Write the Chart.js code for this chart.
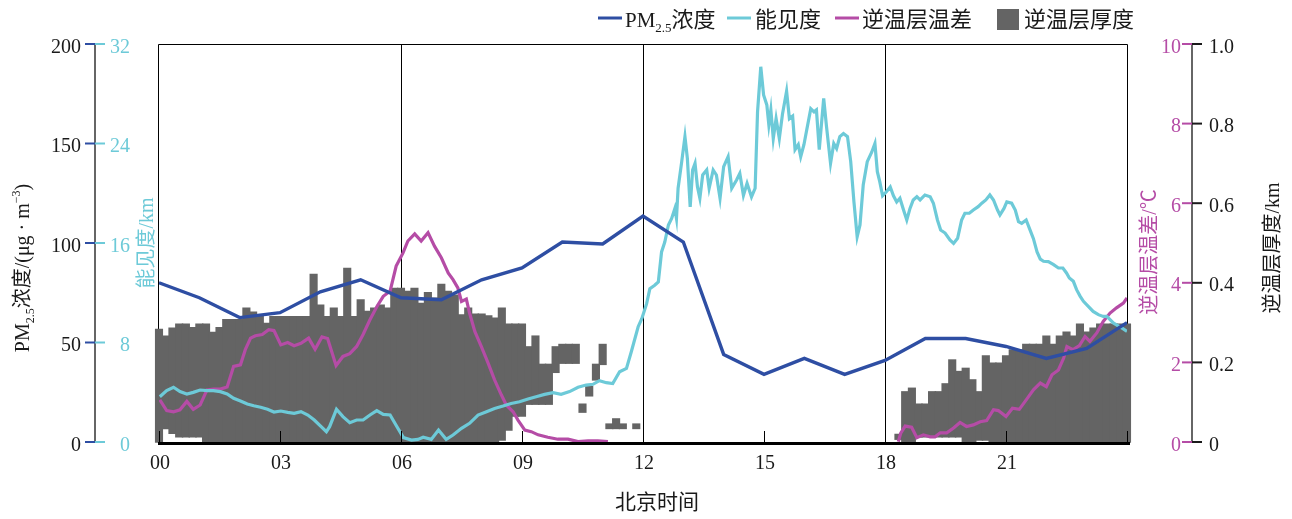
<!DOCTYPE html>
<html>
<head>
<meta charset="utf-8">
<title>PM2.5、能见度与逆温层日变化</title>
<script src="https://cdn.jsdelivr.net/npm/chart.js@4/dist/chart.umd.min.js"></script>
<style>
  html, body { margin: 0; padding: 0; background: #ffffff; }
  canvas { display: block; }
</style>
</head>
<body>
<canvas id="c" width="1292" height="519"></canvas>
<script>
// ---------- data ----------
// PM2.5 hourly concentration (μg·m⁻³)
const pmHours  = [0, 1, 2, 3, 4, 5, 6, 7, 8, 9, 10, 11, 12, 13, 14, 15, 16, 17, 18, 19, 20, 21, 22, 23, 24];
const pmValues = [80, 72.5, 62.5, 65, 75.5, 81.5, 72.5, 71.5, 81.5, 87.5, 100.5, 99.5, 113.5, 100.5, 44, 34, 42, 34, 41, 52, 52, 48, 42, 47, 60];

// visibility (km)
const visHours = [
  0.02, 0.19, 0.36, 0.52, 0.69, 0.85, 1.02, 1.19, 1.35, 1.52, 1.69, 1.85, 2.02, 2.19, 2.35, 2.52, 2.69, 2.85,
  3.02, 3.19, 3.35, 3.52, 3.69, 3.85, 4.02, 4.15, 4.23, 4.4, 4.56, 4.73, 4.9, 5.06, 5.23, 5.4, 5.56, 5.73, 5.9,
  6.06, 6.26, 6.42, 6.55, 6.75, 6.93, 7.12, 7.29, 7.5, 7.7, 7.91, 8.12, 8.32, 8.53, 8.73, 8.94,
  9.15, 9.35, 9.56, 9.77, 9.97, 10.18, 10.39, 10.59, 10.76, 10.92, 11.09, 11.25, 11.42, 11.59, 11.71, 11.88,
  11.97, 12.09, 12.17, 12.29, 12.38, 12.46, 12.54, 12.63, 12.71, 12.79, 12.83, 12.87, 12.96, 13.04, 13.1, 13.17,
  13.23, 13.29, 13.35, 13.41, 13.48, 13.58, 13.64, 13.74, 13.82, 13.91, 14.0, 14.11, 14.2, 14.32, 14.4, 14.49,
  14.58, 14.69, 14.78, 14.84, 14.92, 14.99, 15.07, 15.12, 15.17, 15.23, 15.3, 15.38, 15.46, 15.56, 15.63, 15.71,
  15.77, 15.85, 15.91, 15.99, 16.06, 16.16, 16.24, 16.3, 16.37, 16.43, 16.48, 16.55, 16.65, 16.73, 16.8, 16.88,
  16.97, 17.07, 17.15, 17.23, 17.31, 17.38, 17.46, 17.56, 17.67, 17.75, 17.81, 17.87, 17.94, 18.03, 18.13, 18.21,
  18.29, 18.37, 18.46, 18.54, 18.62, 18.7, 18.79, 18.87, 18.99, 19.12, 19.2, 19.3, 19.38, 19.49, 19.61, 19.7,
  19.8, 19.9, 19.98, 20.09, 20.19, 20.31, 20.4, 20.5, 20.6, 20.69, 20.79, 20.85, 20.95, 21.02, 21.14, 21.23,
  21.31, 21.39, 21.5, 21.6, 21.68, 21.77, 21.85, 21.93, 22.05, 22.18, 22.3, 22.41, 22.5, 22.57, 22.67, 22.75,
  22.84, 22.92, 23.04, 23.16, 23.29, 23.41, 23.5, 23.58, 23.66, 23.76, 23.87, 24.0
];
const visKm = [
  3.64, 4.13, 4.4, 4.05, 3.86, 3.99, 4.18, 4.13, 4.13, 4.05, 3.86, 3.51, 3.3, 3.06, 2.92, 2.79, 2.63, 2.41,
  2.49, 2.38, 2.3, 2.44, 2.17, 1.77, 1.23, 0.83, 1.23, 2.63, 2.04, 1.55, 1.77, 1.77, 2.17, 2.52, 2.22, 2.17, 1.23,
  0.35, 0.16, 0.21, 0.38, 0.21, 0.96, 0.21, 0.56, 1.1, 1.5, 2.17, 2.44, 2.7, 2.89, 3.1, 3.24,
  3.46, 3.64, 3.83, 3.97, 3.83, 4.05, 4.4, 4.58, 4.64, 4.93, 4.77, 4.7, 5.65, 5.92, 7.26, 9.27,
  9.92, 11.12, 12.33, 12.6, 12.87, 15.28, 16.08, 17.45, 17.98, 18.78, 17.98, 20.4, 22.54, 24.55, 22.8, 18.9,
  21.87, 22.4, 20.53, 19.6, 21.47, 21.87, 20.4, 21.87, 21.47, 19.6, 22.14, 22.94, 20.4, 21.07, 21.6, 19.83,
  20.8, 19.7, 20.4, 26.55, 30.17, 27.9, 27.1, 25.5, 26.7, 24.4, 26.0, 24.4, 26.4, 28.2, 26.0, 26.2,
  23.5, 23.9, 22.94, 23.9, 25.1, 26.8, 26.55, 26.7, 23.5, 25.76, 27.63, 25.35, 22.4, 24.0, 23.6, 24.55,
  24.8, 24.55, 22.54, 19.3, 16.5, 17.45, 20.66, 22.54, 23.3, 24.0, 21.73, 20.93, 19.8, 20.1, 20.5, 19.8,
  19.3, 19.6, 18.65, 17.85, 18.78, 19.46, 19.72, 19.46, 19.86, 19.72, 19.2, 17.85, 17.05, 16.8, 16.24, 15.97,
  16.38, 17.85, 18.39, 18.39, 18.65, 18.92, 19.2, 19.46, 19.86, 19.46, 18.65, 18.25, 18.78, 19.3, 19.2, 18.65,
  17.72, 17.58, 17.85, 17.02, 16.35, 15.28, 14.7, 14.53, 14.5, 14.26, 13.99, 13.99, 13.59, 13.19, 12.92, 12.25,
  11.71, 11.31, 10.91, 10.5, 10.24, 10.1, 10.1, 9.84, 9.57, 9.38, 9.17, 8.9
];

// inversion-layer temperature difference (°C); null = no inversion
const dtHours = [
  0.02, 0.19, 0.36, 0.52, 0.69, 0.85, 1.02, 1.19, 1.35, 1.52, 1.69, 1.85, 2.02, 2.14, 2.27, 2.39, 2.56, 2.72, 2.85,
  3.02, 3.19, 3.35, 3.52, 3.71, 3.87, 4.04, 4.18, 4.39, 4.56, 4.73, 4.9, 5.06, 5.23, 5.4, 5.56, 5.73, 5.88,
  6.05, 6.17, 6.34, 6.5, 6.67, 6.83, 7.0, 7.17, 7.29, 7.41, 7.5, 7.62, 7.7, 7.83, 7.99, 8.16, 8.32, 8.49,
  8.61, 8.78, 8.9, 9.07, 9.23, 9.4, 9.64, 9.89, 10.14, 10.39, 10.64, 10.88, 11.13,
  14.7,
  18.33, 18.39, 18.5, 18.66, 18.79, 18.95, 19.12, 19.24, 19.37, 19.53, 19.7, 19.86, 20.02, 20.19, 20.36, 20.52,
  20.69, 20.81, 21.0, 21.16, 21.33, 21.51, 21.68, 21.85, 22.0, 22.14, 22.3, 22.43, 22.51, 22.66, 22.82, 22.96,
  23.08, 23.25, 23.41, 23.58, 23.74, 23.91, 24.0
];
const dtValues = [
  1.06, 0.79, 0.76, 0.81, 1.02, 0.82, 0.93, 1.31, 1.33, 1.33, 1.38, 1.9, 1.94, 2.32, 2.61, 2.67, 2.7, 2.82, 2.8,
  2.44, 2.5, 2.42, 2.48, 2.61, 2.33, 2.64, 2.6, 1.92, 2.15, 2.22, 2.4, 2.7, 3.07, 3.4, 3.66, 3.79, 4.42,
  4.75, 5.05, 5.23, 5.05, 5.26, 4.92, 4.63, 4.25, 4.08, 3.87, 3.53, 3.59, 3.24, 2.78, 2.4, 1.98, 1.56, 1.18,
  0.93, 0.76, 0.55, 0.3, 0.26, 0.18, 0.12, 0.07, 0.07, 0.01, 0.03, 0.03, 0.01,
  null,
  0.01, 0.22, 0.4, 0.37, 0.11, 0.18, 0.13, 0.13, 0.23, 0.23, 0.35, 0.49, 0.39, 0.43, 0.51, 0.54,
  0.81, 0.79, 0.64, 0.85, 0.82, 1.07, 1.31, 1.48, 1.39, 1.69, 1.81, 2.11, 2.4, 2.32, 2.42, 2.65,
  2.53, 2.74, 3.03, 3.24, 3.37, 3.49, 3.62
];

// inversion layer, 10-minute profiles from 00:00 to 24:00: base and top heights (km)
const thkStepMinutes = 10;
const thkTop = [
  0.283, 0.266, 0.286, 0.296, 0.296, 0.287, 0.296, 0.296, 0.275, 0.287,
  0.307, 0.307, 0.307, 0.336, 0.326, 0.315, 0.298, 0.315, 0.315, 0.315,
  0.315, 0.315, 0.315, 0.421, 0.344, 0.315, 0.336, 0.315, 0.436, 0.315,
  0.357, 0.328, 0.336, 0.344, 0.336, 0.386, 0.386, 0.378, 0.386, 0.348,
  0.375, 0.361, 0.396, 0.378, 0.369, 0.319, 0.336, 0.321, 0.321, 0.317,
  0.311, 0.336, 0.296, 0.296, 0.296, 0.239, 0.266, 0.195, 0.195, 0.239,
  0.245, 0.245, 0.245, 0.095, 0.139, 0.195, 0.245, 0.045, 0.058, 0.045,
  null, 0.045,
  null, null, null, null, null, null, null, null, null, null,
  null, null, null, null, null, null, null, null, null, null,
  null, null, null, null, null, null, null, null, null, null,
  null, null, null, null, null, null, null, null,
  0.019,
  0.126, 0.135, 0.095, 0.095, 0.126, 0.126, 0.146, 0.206, 0.177,
  0.185, 0.156, 0.126, 0.216, 0.198, 0.198, 0.216, 0.231, 0.231, 0.245,
  0.245, 0.245, 0.266, 0.245, 0.266, 0.276, 0.266, 0.296, 0.276, 0.286,
  0.296, 0.296, 0.296, 0.296, 0.296
];
const thkBase = [
  0, 0.034, 0.022, 0.013, 0.013, 0.013, 0.013, 0, 0, 0,
  0, 0, 0, 0, 0, 0, 0, 0, 0, 0,
  0, 0, 0, 0, 0, 0, 0, 0, 0, 0,
  0, 0, 0, 0, 0, 0, 0, 0, 0, 0,
  0, 0, 0, 0, 0, 0, 0, 0, 0, 0,
  0, 0.005, 0.03, 0.065, 0.065, 0.095, 0.095, 0.095, 0.095, 0.175,
  0.198, 0.198, 0.198, 0.075, 0.116, 0.156, 0.195, 0.034, 0.034, 0.034,
  null, 0.034,
  null, null, null, null, null, null, null, null, null, null,
  null, null, null, null, null, null, null, null, null, null,
  null, null, null, null, null, null, null, null, null, null,
  null, null, null, null, null, null, null, null,
  0.007,
  0, 0, 0.013, 0.013, 0.013, 0.013, 0.013, 0.013, 0.013,
  0, 0, 0.005, 0.005, 0, 0, 0, 0, 0, 0,
  0, 0, 0, 0, 0, 0, 0, 0, 0, 0,
  0, 0, 0, 0, 0
];

// axis ticks
const xTickLabels  = ['00', '03', '06', '09', '12', '15', '18', '21'];
const pmTicks      = [0, 50, 100, 150, 200];
const visTicks     = [0, 8, 16, 24, 32];
const dtTicks      = [0, 2, 4, 6, 8, 10];
const thkTicks     = [0, 0.2, 0.4, 0.6, 0.8, 1.0];
const thkTickLabels = ['0', '0.2', '0.4', '0.6', '0.8', '1.0'];

// ---------- style ----------
const C_PM = '#2e4ea3';
const C_VIS = '#6dcad8';
const C_DT = '#b54ca6';
const C_THK = '#646464';
const C_AXIS = '#666666';
const C_TEXT = '#1a1a1a';
const FONT_NUM = '"Liberation Serif", "Noto Sans CJK SC", serif';
const FONT_CJK = '"Noto Sans CJK SC", "Liberation Serif", sans-serif';

// ---------- datasets ----------
const pmData  = pmHours.map((h, i) => ({ x: h, y: pmValues[i] }));
const visData = visHours.map((h, i) => ({ x: h, y: visKm[i] }));
const dtData  = dtHours.map((h, i) => ({ x: h, y: dtValues[i] }));
const thkData = [];
thkTop.forEach((top, i) => {
  if (top === null || thkBase[i] === null) return;
  thkData.push({ x: i * thkStepMinutes / 60, y: [thkBase[i], top] });
});

// draw a run of text pieces (for sub/superscripts), optionally rotated
function drawRich(ctx, pieces, x, y, opts) {
  const o = Object.assign({ rotate: false, align: 'center', color: C_TEXT }, opts || {});
  ctx.save();
  ctx.translate(x, y);
  if (o.rotate) ctx.rotate(-Math.PI / 2);
  ctx.textBaseline = 'alphabetic';
  ctx.textAlign = 'left';
  let total = 0;
  pieces.forEach(p => { ctx.font = p.font; p._w = ctx.measureText(p.t).width; total += p._w; });
  let cx = o.align === 'center' ? -total / 2 : (o.align === 'right' ? -total : 0);
  pieces.forEach(p => {
    ctx.font = p.font;
    ctx.fillStyle = p.color || o.color;
    ctx.fillText(p.t, cx, p.dy || 0);
    cx += p._w;
  });
  ctx.restore();
}

function tickLabel(ctx, text, x, y, align, color) {
  ctx.save();
  ctx.font = '20px ' + FONT_NUM;
  ctx.fillStyle = color;
  ctx.textAlign = align;
  ctx.textBaseline = 'alphabetic';
  ctx.fillText(text, x, y + 8.6);
  ctx.restore();
}

function hLine(ctx, x1, x2, y, color, w) {
  ctx.save();
  ctx.strokeStyle = color; ctx.lineWidth = w;
  ctx.beginPath(); ctx.moveTo(x1, y); ctx.lineTo(x2, y); ctx.stroke();
  ctx.restore();
}

const decor = {
  id: 'decor',
  beforeDatasetsDraw(chart) {
    const { ctx, chartArea: a } = chart;
    ctx.save();
    ctx.strokeStyle = '#000'; ctx.lineWidth = 1;
    ctx.beginPath();
    ctx.moveTo(a.left - 0.5, a.bottom);
    ctx.lineTo(a.left - 0.5, a.top + 0.5);
    ctx.lineTo(a.right + 0.5, a.top + 0.5);
    ctx.lineTo(a.right + 0.5, a.bottom);
    ctx.stroke();
    ctx.restore();
  },
  afterDatasetsDraw(chart) {
    const { ctx, chartArea: a, scales } = chart;
    ctx.save();
    ctx.strokeStyle = '#000'; ctx.lineWidth = 1;
    scales.x.ticks.forEach(t => {
      const px = Math.round(scales.x.getPixelForValue(t.value)) + 0.5;
      ctx.beginPath(); ctx.moveTo(px, a.bottom - 11); ctx.lineTo(px, a.bottom); ctx.stroke();
    });
    ctx.restore();
    hLine(ctx, a.left - 1, a.right + 3, a.bottom + 1.5, '#000', 3);
  },
  afterDraw(chart) {
    const { ctx, chartArea: a, scales } = chart;
    const leftX = a.left - 64;    // shared left axis line
    const rightX = a.right + 65;  // shared right axis line

    ctx.save();
    ctx.strokeStyle = C_AXIS; ctx.lineWidth = 2;
    ctx.beginPath(); ctx.moveTo(leftX, a.top); ctx.lineTo(leftX, a.bottom); ctx.stroke();
    ctx.beginPath(); ctx.moveTo(rightX, a.top); ctx.lineTo(rightX, a.bottom); ctx.stroke();
    ctx.restore();

    // left: PM2.5 outside, visibility inside
    pmTicks.forEach(v => {
      const y = scales.yPM.getPixelForValue(v);
      hLine(ctx, leftX - 10, leftX, y, C_PM, 2);
      tickLabel(ctx, String(v), leftX - 14, y, 'right', C_TEXT);
    });
    visTicks.forEach(v => {
      const y = scales.yVis.getPixelForValue(v);
      hLine(ctx, leftX, leftX + 10, y, C_VIS, 2);
      tickLabel(ctx, String(v), leftX + 35, y, 'right', C_VIS);
    });
    // right: temperature difference inside, thickness outside
    dtTicks.forEach(v => {
      const y = scales.yDT.getPixelForValue(v);
      hLine(ctx, rightX - 10, rightX, y, C_DT, 2);
      tickLabel(ctx, String(v), rightX - 11, y, 'right', C_DT);
    });
    thkTicks.forEach((v, i) => {
      const y = scales.yThk.getPixelForValue(v);
      hLine(ctx, rightX, rightX + 10, y, C_TEXT, 2);
      tickLabel(ctx, thkTickLabels[i], rightX + 17, y, 'left', C_TEXT);
    });

    // x tick labels
    xTickLabels.forEach((lab, i) => {
      const px = scales.x.getPixelForValue(i * 3) + 1;
      ctx.save();
      ctx.font = '20px ' + FONT_NUM;
      ctx.fillStyle = C_TEXT;
      ctx.textAlign = 'center';
      ctx.textBaseline = 'alphabetic';
      ctx.fillText(lab, px, a.bottom + 27);
      ctx.restore();
    });

    // axis titles
    const f20 = '20px ' + FONT_NUM;
    const f12 = '12px ' + FONT_NUM;
    drawRich(ctx, [
      { t: 'PM', font: f20 },
      { t: '2.5', font: f12, dy: 5 },
      { t: '浓度/(μg · m', font: f20 },
      { t: '−3', font: f12, dy: -9 },
      { t: ')', font: f20 }
    ], 29, 268, { rotate: true });
    drawRich(ctx, [{ t: '能见度/km', font: f20 }], 153, 243, { rotate: true, color: C_VIS });
    drawRich(ctx, [{ t: '逆温层温差/℃', font: f20 }], 1156, 252, { rotate: true, color: C_DT });
    drawRich(ctx, [{ t: '逆温层厚度/km', font: f20 }], 1279, 248, { rotate: true, color: C_TEXT });
    drawRich(ctx, [{ t: '北京时间', font: '21px ' + FONT_CJK }], (a.left + a.right) / 2 + 14, 509, {});

    // legend
    const ly = 18;
    const fl = '21px ' + FONT_NUM;
    const flc = '22px ' + FONT_CJK;
    hLine(ctx, 598, 622, ly, C_PM, 3);
    drawRich(ctx, [
      { t: 'PM', font: fl },
      { t: '2.5', font: '13px ' + FONT_NUM, dy: 5 },
      { t: '浓度', font: flc }
    ], 625, 27, { align: 'left' });
    hLine(ctx, 727, 751, ly, C_VIS, 3);
    drawRich(ctx, [{ t: '能见度', font: flc }], 755, 27, { align: 'left' });
    hLine(ctx, 835, 859, ly, C_DT, 3);
    drawRich(ctx, [{ t: '逆温层温差', font: flc }], 862, 27, { align: 'left' });
    ctx.save();
    ctx.fillStyle = C_THK;
    ctx.fillRect(997, 9, 22, 21);
    ctx.restore();
    drawRich(ctx, [{ t: '逆温层厚度', font: flc }], 1024, 27, { align: 'left' });
  }
};

new Chart(document.getElementById('c').getContext('2d'), {
  type: 'bar',
  data: {
    datasets: [
      { type: 'line', label: 'PM2.5浓度', data: pmData, yAxisID: 'yPM',
        borderColor: C_PM, borderWidth: 3.4, pointRadius: 0, tension: 0, order: 1 },
      { type: 'line', label: '能见度', data: visData, yAxisID: 'yVis',
        borderColor: C_VIS, borderWidth: 3.2, pointRadius: 0, tension: 0, order: 2 },
      { type: 'line', label: '逆温层温差', data: dtData, yAxisID: 'yDT', spanGaps: false,
        borderColor: C_DT, borderWidth: 3.2, pointRadius: 0, tension: 0, order: 3 },
      { type: 'bar', label: '逆温层厚度', data: thkData, yAxisID: 'yThk',
        backgroundColor: C_THK, borderWidth: 0, barPercentage: 1, categoryPercentage: 1,
        inflateAmount: 0.7, clip: false, order: 4 }
    ]
  },
  options: {
    responsive: false,
    animation: false,
    devicePixelRatio: 1,
    layout: { padding: { left: 159, right: 165, top: 44, bottom: 0 } },
    plugins: { legend: { display: false }, tooltip: { enabled: false } },
    scales: {
      x: {
        type: 'linear', min: 0, max: 24, offset: false,
        ticks: { display: false, stepSize: 3 },
        grid: {
          offset: false, drawTicks: false, lineWidth: 1,
          color: c => (c.tick && [6, 12, 18].includes(c.tick.value)) ? '#000000' : 'rgba(0,0,0,0)'
        },
        border: { display: false },
        afterFit(s) { s.height = 77; }
      },
      yPM:  { type: 'linear', position: 'left',  min: 0, max: 200, display: false },
      yVis: { type: 'linear', position: 'left',  min: 0, max: 32,  display: false },
      yDT:  { type: 'linear', position: 'right', min: 0, max: 10,  display: false },
      yThk: { type: 'linear', position: 'right', min: 0, max: 1,   display: false }
    }
  },
  plugins: [decor]
});
</script>
</body>
</html>
